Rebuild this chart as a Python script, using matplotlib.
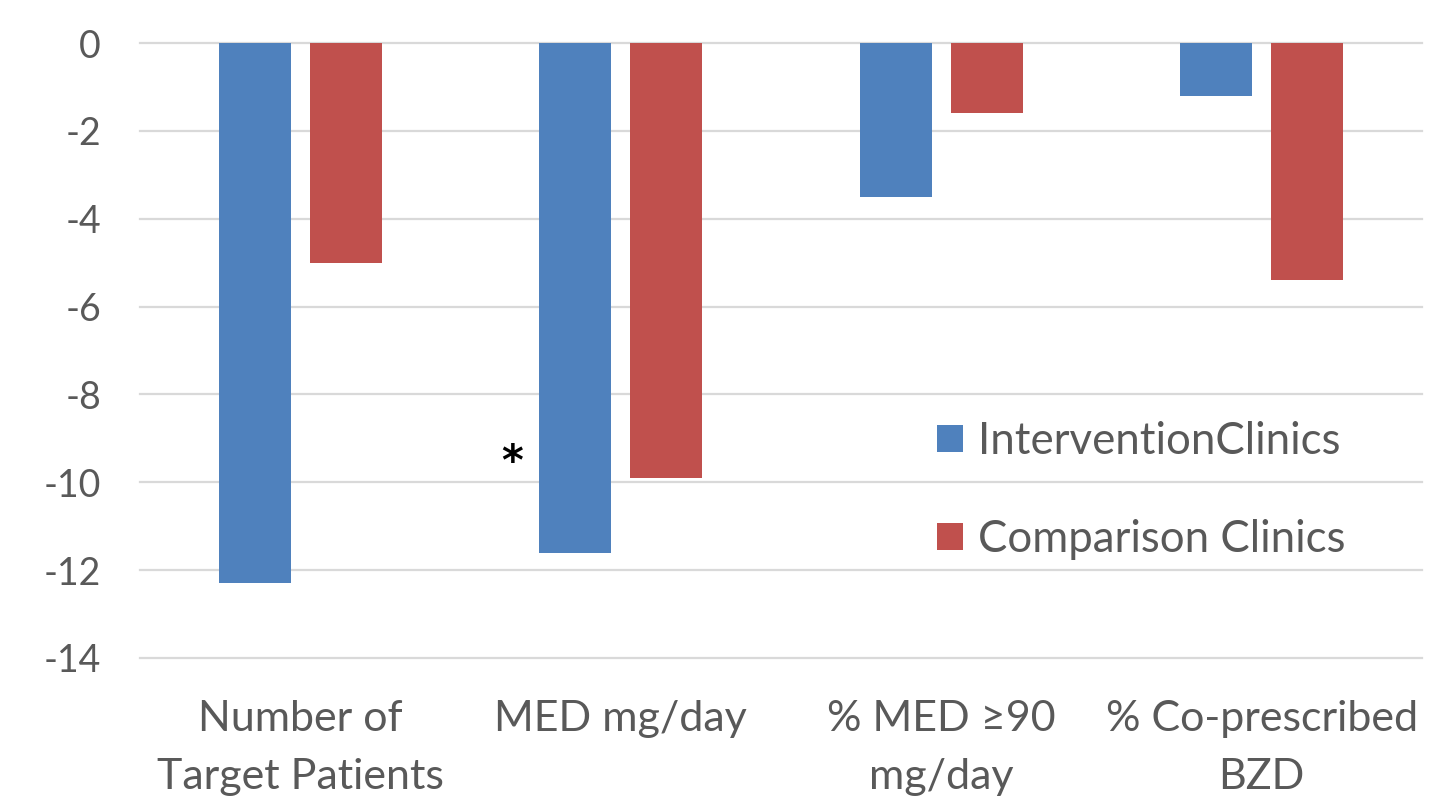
import numpy as np
import matplotlib
matplotlib.use('Agg')
import matplotlib.pyplot as plt

plt.rcParams['font.family'] = ['Lato', 'DejaVu Sans']

# data
categories = ['Number of\nTarget Patients', 'MED mg/day', '% MED ≥90\nmg/day', '% Co-prescribed\nBZD']
intervention = [-12.3, -11.6, -3.5, -1.2]
comparison = [-5.0, -9.9, -1.6, -5.4]
series_names = ['InterventionClinics', 'Comparison Clinics']
yticks = np.arange(-14, 1, 2)

blue = '#4F81BD'
red = '#C0504D'
grey_txt = '#595959'

fig = plt.figure(figsize=(14.31, 7.99), dpi=100)
ax = fig.add_axes([140/1431, 1-658/799, 1282/1431, 615/799])

x = np.arange(len(categories))
w = 0.225
off = 0.1425
ax.bar(x - off, intervention, w, color=blue, label=series_names[0], zorder=3)
ax.bar(x + off, comparison, w, color=red, label=series_names[1], zorder=3)

ax.set_xlim(-0.5, 3.5)
ax.set_ylim(-14, 0)
ax.set_yticks(yticks)
ax.set_yticklabels([str(v) for v in yticks])
ax.set_xticks(x)
ax.set_xticklabels(categories)
for lbl in ax.get_xticklabels():
    lbl.set_linespacing(1.65)
ax.yaxis.grid(True, color='#D9D9D9', linewidth=1.6, zorder=0)
ax.set_axisbelow(True)
for s in ax.spines.values():
    s.set_visible(False)
ax.tick_params(axis='y', length=0, pad=28, labelsize=27, labelcolor=grey_txt)
ax.tick_params(axis='x', length=0, pad=30, labelsize=31, labelcolor=grey_txt)
# keep top grid line (0) visible
for gl in ax.get_ygridlines():
    gl.set_clip_on(False)

# significance mark
ax.text(1 - 0.34, -9.55, '*', fontsize=30, color='black', ha='center', va='center',
        family='DejaVu Sans', fontweight='bold')

leg = ax.legend(loc='center left', bbox_to_anchor=(0.605, 0.272), frameon=False,
                fontsize=31.5, handlelength=0.58, handleheight=0.58, handletextpad=0.35,
                labelspacing=1.3, borderpad=0)
for t in leg.get_texts():
    t.set_color(grey_txt)

fig.savefig('out.png', dpi=100)
